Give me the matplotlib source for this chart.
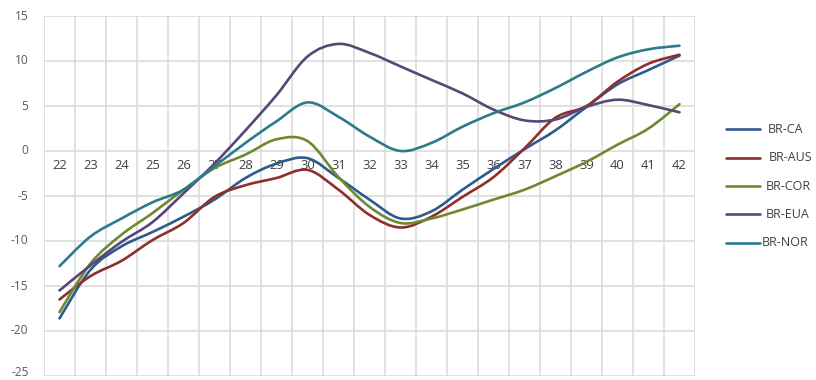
import numpy as np
import matplotlib
matplotlib.use("Agg")
import matplotlib.pyplot as plt
from matplotlib.path import Path
from matplotlib.patches import PathPatch
from matplotlib.lines import Line2D

plt.rcParams['font.family'] = ['Open Sans', 'DejaVu Sans']

categories = [str(c) for c in range(22, 43)]

br_ca = [-18.6, -13.2, -10.6, -9.0, -7.3, -5.4, -3.0, -1.4, -0.8, -3.0, -5.4,
         -7.5, -6.7, -4.3, -2.0, 0.2, 2.3, 4.9, 7.4, 9.0, 10.6]
br_aus = [-16.5, -13.9, -12.2, -9.9, -8.0, -5.1, -3.8, -3.0, -2.1, -4.3, -7.1,
          -8.5, -7.3, -5.1, -2.9, 0.3, 3.7, 5.0, 7.7, 9.7, 10.7]
br_cor = [-17.9, -12.5, -9.3, -6.9, -4.3, -1.9, -0.4, 1.3, 1.1, -2.9, -6.2,
          -8.0, -7.5, -6.5, -5.4, -4.3, -2.8, -1.2, 0.7, 2.5, 5.2]
br_eua = [-15.5, -12.7, -10.1, -7.9, -4.7, -1.4, 2.3, 6.2, 10.5, 11.9, 10.9,
          9.4, 7.9, 6.4, 4.6, 3.4, 3.5, 4.9, 5.7, 5.1, 4.3]
br_nor = [-12.8, -9.5, -7.5, -5.7, -4.3, -1.7, 0.9, 3.3, 5.4, 3.8, 1.6,
          0.0, 0.9, 2.7, 4.2, 5.4, 7.0, 8.8, 10.4, 11.3, 11.7]

series_names = ['BR-CA', 'BR-AUS', 'BR-COR', 'BR-EUA', 'BR-NOR']
series_values = [br_ca, br_aus, br_cor, br_eua, br_nor]
series_colors = ['#2F5A8C', '#8E2F2C', '#6D8A30', '#5A4676', '#2C7B8C']

y_ticks = list(range(-25, 20, 5))


def smooth_path(x, y):
    """Smoothed line through the points using cubic Bezier segments."""
    pts = np.column_stack([x, y]).astype(float)
    n = len(pts)
    verts = [pts[0]]
    codes = [Path.MOVETO]
    for i in range(n - 1):
        p0 = pts[i - 1] if i > 0 else pts[i]
        p1 = pts[i]
        p2 = pts[i + 1]
        p3 = pts[i + 2] if i + 2 < n else pts[i + 1]
        c1 = p1 + (p2 - p0) / 6.0
        c2 = p2 - (p3 - p1) / 6.0
        verts += [c1, c2, p2]
        codes += [Path.CURVE4] * 3
    return Path(verts, codes)


fig = plt.figure(figsize=(8.16, 3.8), dpi=100)
ax = fig.add_axes([44 / 816, 1 - 376 / 380, (695 - 44) / 816, 360 / 380])

n = len(categories)
xs = np.arange(n)
ax.set_xlim(-0.5, n - 0.5)
ax.set_ylim(-25, 15)

# grid: horizontal at value ticks, vertical between categories
for v in y_ticks:
    ax.axhline(v, color='#D9D9D9', lw=1.1, zorder=1)
for b in np.arange(-0.5, n, 1.0):
    ax.axvline(b, color='#D9D9D9', lw=1.1, zorder=1)

for name, vals, col in zip(series_names, series_values, series_colors):
    patch = PathPatch(smooth_path(xs, vals), facecolor='none', edgecolor=col,
                      lw=1.9, capstyle='round', joinstyle='round', zorder=3)
    ax.add_patch(patch)

for s in ax.spines.values():
    s.set_visible(False)
ax.set_xticks([])
ax.set_yticks([])

# value labels on the left
for v in y_ticks:
    yv = v + 0.35 if v == y_ticks[0] else v
    ax.text(-0.5, yv, str(v), transform=ax.transData, ha='right', va='center',
            fontsize=8.6, color='#595959')
for t in ax.texts:
    t.set_x(-1.0)

# category labels sit just under the zero line
for i, c in enumerate(categories):
    ax.text(i, -1.65, c, ha='center', va='center', fontsize=9.4,
            color='#404040', zorder=2)

# legend on the right
leg_y = [129.3, 157.7, 186.0, 214.3, 242.7]
text_x = [768, 769, 766, 766, 762]
for name, col, yy, tx in zip(series_names, series_colors, leg_y, text_x):
    fy = 1 - yy / 380
    fig.add_artist(Line2D([726 / 816, 760 / 816], [fy, fy], color=col, lw=1.9,
                          solid_capstyle='round'))
    fig.text(tx / 816, fy, name, ha='left', va='center', fontsize=9,
             color='#404040')

fig.savefig('out.png', dpi=100)
